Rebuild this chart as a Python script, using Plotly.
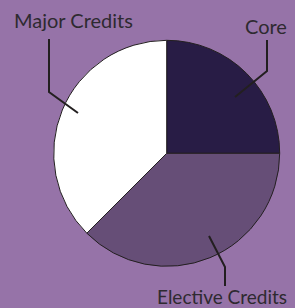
import plotly.graph_objects as go

labels = ["Core", "Elective Credits", "Major Credits"]
values = [25, 37.5, 37.5]
colors = ["#281C45", "#664E77", "#FFFFFF"]

W, H = 295, 308
BG = "#9673A8"
INK = "#231F20"

def px(x, y):
    return x / W, 1 - y / H

cx, cy, r = 166.7, 153.3, 113
x0, _ = px(cx - r, 0)
x1, _ = px(cx + r, 0)
_, y1 = px(0, cy - r)
_, y0 = px(0, cy + r)

fig = go.Figure(go.Pie(
    labels=labels, values=values, sort=False, direction="clockwise", rotation=0,
    marker=dict(colors=colors, line=dict(color=INK, width=1)),
    textinfo="none", hoverinfo="label+value", showlegend=False,
    domain=dict(x=[x0, x1], y=[y0, y1]),
))

leaders = [
    [(49, 39), (49, 92), (78, 113)],
    [(267, 40), (267, 71), (235, 97)],
    [(209, 236), (225, 267), (225, 286)],
]
shapes = []
for pts in leaders:
    p = [px(*q) for q in pts]
    path = "M {} {} ".format(*p[0]) + " ".join("L {} {}".format(*q) for q in p[1:])
    shapes.append(dict(type="path", xref="paper", yref="paper", path=path,
                       line=dict(color=INK, width=2)))

texts = [
    ("Major Credits", 73, 20, "center", 20),
    ("Core", 266, 26.5, "center", 20),
    ("Elective Credits", 289, 296, "right", 19),
]
annotations = []
for t, x, y, anc, sz in texts:
    ax, ay = px(x, y)
    annotations.append(dict(text=t, x=ax, y=ay, xref="paper", yref="paper",
                            showarrow=False, xanchor=anc, yanchor="middle",
                            font=dict(family="Lato, Noto Sans, sans-serif", size=sz, color="#2E2A30")))

fig.update_layout(
    width=W, height=H, margin=dict(l=0, r=0, t=0, b=0),
    paper_bgcolor=BG, plot_bgcolor=BG,
    shapes=shapes, annotations=annotations,
)
fig.write_html("out.html", config={"displayModeBar": False},
               post_script="document.body.style.margin='0';")
